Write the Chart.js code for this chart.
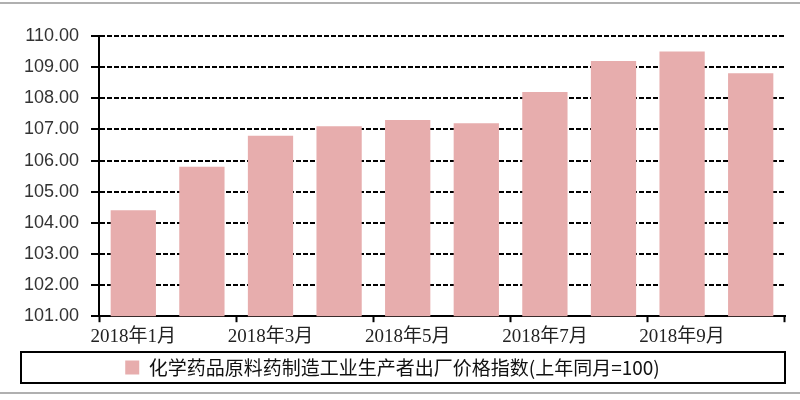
<!DOCTYPE html>
<html lang="zh">
<head>
    <meta charset="UTF-8">
    <title>化学药品原料药制造工业生产者出厂价格指数</title>
    <script src="https://cdn.jsdelivr.net/npm/chart.js"></script>
    <style>
        html, body { margin: 0; padding: 0; background: #fff; }
        #wrap { width: 800px; height: 400px; position: relative; }
    </style>
</head>
<body>
    <div id="wrap"><canvas id="ppiChart"></canvas></div>
    <script>
        // 数据
        const months = ['2018年1月', '2018年2月', '2018年3月', '2018年4月', '2018年5月',
                        '2018年6月', '2018年7月', '2018年8月', '2018年9月', '2018年10月'];
        const ppiValues = [104.4, 105.8, 106.8, 107.1, 107.3, 107.2, 108.2, 109.2, 109.5, 108.8];
        const seriesName = '化学药品原料药制造工业生产者出厂价格指数(上年同月=100)';
        const yMin = 101, yMax = 110, yStep = 1;

        // 外框线 + 图例边框
        const framePlugin = {
            id: 'frame',
            beforeDraw(chart) {
                const ctx = chart.ctx;
                ctx.save();
                ctx.fillStyle = '#fff';
                ctx.fillRect(0, 0, chart.width, chart.height);
                ctx.strokeStyle = '#b0b0b0';
                ctx.lineWidth = 2;
                ctx.beginPath();
                ctx.moveTo(0, 3); ctx.lineTo(chart.width, 3);
                ctx.moveTo(0, 393); ctx.lineTo(chart.width, 393);
                ctx.stroke();
                ctx.restore();
            },
            afterDraw(chart) {
                const ctx = chart.ctx;
                const lg = chart.legend;
                ctx.save();
                ctx.strokeStyle = '#000';
                ctx.lineWidth = 2;
                ctx.strokeRect(21, lg.top + 1, 764, lg.height - 5);
                ctx.restore();
            }
        };

        const ctx = document.getElementById('ppiChart').getContext('2d');
        new Chart(ctx, {
            type: 'bar',
            data: {
                labels: months,
                datasets: [{
                    label: seriesName,
                    data: ppiValues,
                    backgroundColor: '#e7adad',
                    borderWidth: 0,
                    barPercentage: 0.66,
                    categoryPercentage: 1.0
                }]
            },
            options: {
                responsive: true,
                maintainAspectRatio: false,
                animation: false,
                layout: { padding: { top: 36, right: 15, left: 0, bottom: 13 } },
                scales: {
                    x: {
                        offset: true,
                        border: { color: '#000', width: 2 },
                        grid: {
                            offset: true,
                            drawOnChartArea: false,
                            drawTicks: true,
                            tickLength: 6,
                            tickWidth: 2,
                            tickColor: c => (c.index === undefined || c.index % 2 === 0) ? '#000' : 'rgba(0,0,0,0)'
                        },
                        ticks: {
                            autoSkip: false,
                            maxRotation: 0,
                            padding: 3,
                            color: '#222',
                            font: { family: "'Liberation Serif', 'Noto Sans CJK SC'", size: 19 },
                            callback: function (v, i) { return i % 2 === 0 ? this.getLabelForValue(v) : ''; }
                        }
                    },
                    y: {
                        min: yMin,
                        max: yMax,
                        afterFit: s => { s.width = 99; },
                        border: { color: '#000', width: 2, dash: [5, 2] },
                        grid: {
                            color: '#000',
                            lineWidth: 2,
                            tickLength: 8,
                            tickWidth: 2,
                            tickColor: '#000'
                        },
                        ticks: {
                            stepSize: yStep,
                            padding: 12,
                            color: '#333',
                            font: { family: "'Liberation Sans', Arial", size: 18 },
                            callback: v => Number(v).toFixed(2)
                        }
                    }
                },
                plugins: {
                    legend: {
                        position: 'bottom',
                        labels: {
                            boxWidth: 14,
                            boxHeight: 14,
                            padding: 7,
                            color: '#111',
                            font: { family: "'Noto Sans CJK SC', 'Liberation Serif'", size: 19 }
                        }
                    },
                    tooltip: { enabled: false }
                }
            },
            plugins: [framePlugin]
        });
    </script>
</body>
</html>
